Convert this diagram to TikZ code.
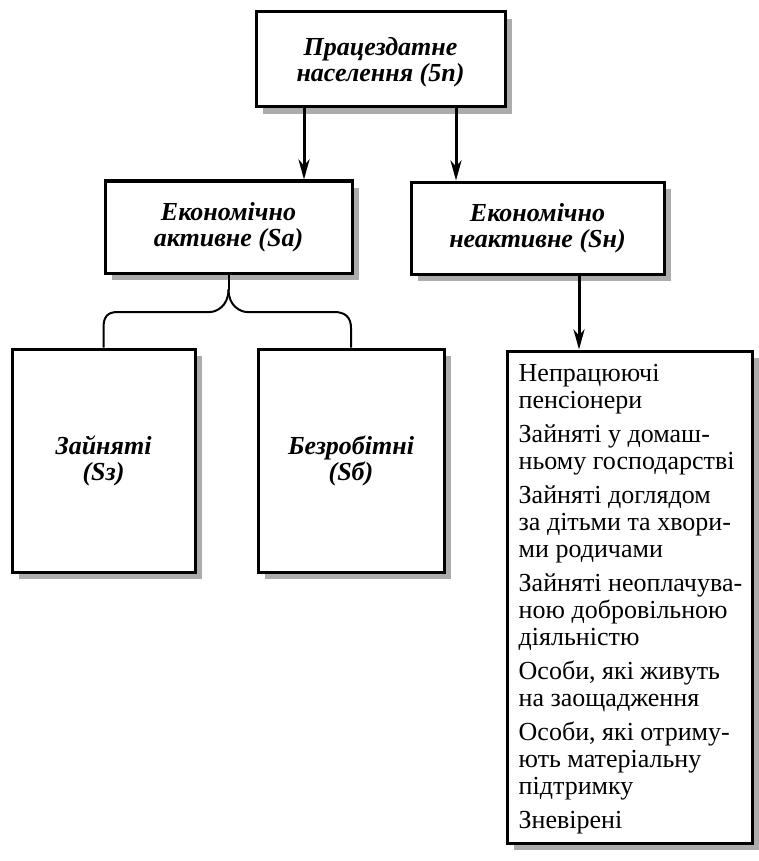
\documentclass[tikz,border=0pt]{standalone}
\usepackage{fontspec}
\setmainfont{Liberation Serif}
\usetikzlibrary{shadows,arrows.meta,calc}
\begin{document}
\begin{tikzpicture}[x=1pt,y=-1pt,
  box/.style={draw,line width=3pt,fill=white,align=center,inner sep=0pt,
     drop shadow={shadow xshift=7pt,shadow yshift=-7pt,fill=gray!65,opacity=1}},
  title/.style={font=\fontsize{26}{26}\selectfont\bfseries\itshape},
  listtext/.style={font=\fontsize{26}{27}\selectfont,align=left,inner sep=0pt,anchor=north west},
  arr/.style={line width=3pt,-{Stealth[length=20pt,width=11pt,inset=6pt]}},
  brace/.style={line width=2pt}]
\useasboundingbox (0,0) rectangle (758,861);
\node[box,title,minimum width=249pt,minimum height=95pt] (top) at (380.5,59.5) {\rule{0pt}{24pt}Працездатне\\населення (5п)};
\node[box,title,minimum width=247pt,minimum height=92pt] (sa) at (228.5,227) {Економічно\\активне (Sa)};
\node[box,title,minimum width=253pt,minimum height=92pt] (sn) at (537.5,228) {Економічно\\неактивне (Sн)};
\node[box,title,minimum width=183pt,minimum height=223pt] (sz) at (103.5,460.5) {Зайняті\\(Sз)};
\node[box,title,minimum width=186pt,minimum height=223pt] (sb) at (351,460.5) {Безробітні\\(Sб)};
\node[box,minimum width=245pt,minimum height=492pt] (list) at (629.5,597) {};
\node[listtext] (items) at ($(list.north west)+(13,15)$) {%
Непрацюючі\\пенсіонери\\[7pt]
Зайняті у домаш-\\ньому господарстві\\[7pt]
Зайняті доглядом\\за дітьми та хвори-\\ми родичами\\[7pt]
Зайняті неоплачува-\\ною добровільною\\діяльністю\\[7pt]
Особи, які живуть\\на заощадження\\[7pt]
Особи, які отриму-\\ють матеріальну\\підтримку\\[7pt]
Зневірені};
\coordinate (a1) at ([xshift=-76.5pt]top.south);
\coordinate (a2) at ([xshift=75.5pt]top.south);
\coordinate (a3) at ([xshift=41.5pt]sn.south);
\draw[arr] (a1) -- (a1 |- sa.north);
\draw[arr] (a2) -- (a2 |- sn.north);
\draw[arr] (a3) -- (a3 |- list.north);
\coordinate (bj) at ($(sa.south)+(0,15)$);
\draw[brace] (sa.south) -- (bj);
\draw[brace] (bj) .. controls +(0,17) and +(6,0) .. (210,312) -- (118,312) .. controls +(-11,0) and +(0,-11) .. (103.5,328) -- (sz.north);
\draw[brace] (bj) .. controls +(0,17) and +(-6,0) .. (247,312) -- (334,312) .. controls +(11,0) and +(0,-11) .. (351,328) -- (sb.north);
\end{tikzpicture}
\end{document}
